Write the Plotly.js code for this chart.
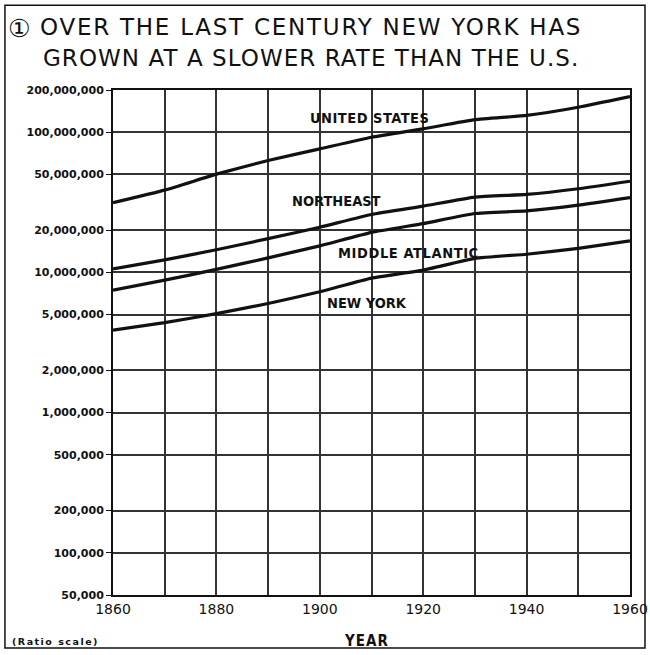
<!DOCTYPE html>
<html>
<head>
<meta charset="utf-8">
<script src="https://cdn.plot.ly/plotly-3.0.1.min.js"></script>
<style>
  html, body { margin: 0; padding: 0; background: #fff; }
  #chart { width: 650px; height: 655px; }
</style>
</head>
<body>
<div id="chart"></div>
<script>
// ---- Data (ratio scale) ----
var years = [1860, 1870, 1880, 1890, 1900, 1910, 1920, 1930, 1940, 1950, 1960];
var unitedStates = [31400000, 38600000, 50200000, 62900000, 76000000, 92000000, 105700000, 122800000, 131700000, 150700000, 179300000];
var northeast = [10600000, 12300000, 14500000, 17400000, 21000000, 25900000, 29700000, 34400000, 36000000, 39500000, 44700000];
var middleAtlantic = [7460000, 8810000, 10500000, 12700000, 15450000, 19300000, 22300000, 26300000, 27500000, 30200000, 34200000];
var newYork = [3880000, 4380000, 5080000, 6000000, 7270000, 9110000, 10390000, 12590000, 13480000, 14830000, 16780000];

var seriesNames = ["UNITED STATES", "NORTHEAST", "MIDDLE ATLANTIC", "NEW YORK"];
// label anchor positions (left edge year, population)
var labelYears = [1897.7, 1894.2, 1903.1, 1901];
var labelValues = [126000000, 32400000, 13800000, 6050000];

var yTickVals = [50000, 100000, 200000, 500000, 1000000, 2000000, 5000000, 10000000, 20000000, 50000000, 100000000, 200000000];
var yTickText = ["50,000", "100,000", "200,000", "500,000", "1,000,000", "2,000,000", "5,000,000", "10,000,000", "20,000,000", "50,000,000", "100,000,000", "200,000,000"];
var xTickVals = [1860, 1870, 1880, 1890, 1900, 1910, 1920, 1930, 1940, 1950, 1960];
var xTickText = ["1860", "", "1880", "", "1900", "", "1920", "", "1940", "", "1960"];

var titleLine1 = "OVER THE LAST CENTURY NEW YORK HAS";
var titleLine2 = "GROWN AT A SLOWER RATE THAN THE U.S.";

// ---- Chart ----
var allSeries = [unitedStates, northeast, middleAtlantic, newYork];
var traces = allSeries.map(function (vals, i) {
  return {
    x: years, y: vals, name: seriesNames[i], type: 'scatter', mode: 'lines',
    line: { color: '#111', width: 3.2, shape: 'spline', smoothing: 0.4 }, showlegend: false, hoverinfo: 'skip'
  };
});

var baseFont = "DejaVu Sans, sans-serif";
var condFont = "DejaVu Sans Condensed, DejaVu Sans, sans-serif";
var annotations = seriesNames.map(function (n, i) {
  return {
    x: labelYears[i], y: Math.log10(labelValues[i]), xref: 'x', yref: 'y',
    xanchor: 'left', yanchor: 'middle',
    text: n, showarrow: false,
    font: { family: condFont, size: 14.5, color: '#111', weight: 'bold' }
  };
});
annotations.push(
  { xref: 'paper', yref: 'paper', x: -0.207, y: 1.155, xanchor: 'left', yanchor: 'top',
    text: '\u2460', showarrow: false, font: { family: baseFont, size: 25, color: '#111' } },
  { xref: 'paper', yref: 'paper', x: -0.145, y: 1.154, xanchor: 'left', yanchor: 'top',
    text: titleLine1, showarrow: false, font: { family: baseFont, size: 23, color: '#111' } },
  { xref: 'paper', yref: 'paper', x: -0.139, y: 1.093, xanchor: 'left', yanchor: 'top',
    text: titleLine2, showarrow: false, font: { family: baseFont, size: 23, color: '#111' } },
  { xref: 'paper', yref: 'paper', x: 0.491, y: -0.091, xanchor: 'center', yanchor: 'middle',
    text: 'YEAR', showarrow: false, font: { family: condFont, size: 15, color: '#111', weight: 'bold' } },
  { xref: 'paper', yref: 'paper', x: -0.2, y: -0.093, xanchor: 'left', yanchor: 'middle',
    text: '(Ratio scale)', showarrow: false, font: { family: baseFont, size: 9.5, color: '#111', weight: 'bold' } }
);

var layout = {
  width: 650, height: 655,
  margin: { l: 113, r: 20, t: 90, b: 60 },
  paper_bgcolor: '#fff', plot_bgcolor: '#fff',
  showlegend: false,
  xaxis: {
    range: [1860, 1960], tickmode: 'array', tickvals: xTickVals, ticktext: xTickText,
    showgrid: true, gridcolor: '#333', gridwidth: 2,
    showline: true, linecolor: '#111', linewidth: 2, mirror: true,
    ticks: '', zeroline: false,
    tickfont: { family: baseFont, size: 14, color: '#111' }
  },
  yaxis: {
    type: 'log', range: [Math.log10(50000), Math.log10(200000000)],
    tickmode: 'array', tickvals: yTickVals, ticktext: yTickText,
    showgrid: true, gridcolor: '#333', gridwidth: 2,
    showline: true, linecolor: '#111', linewidth: 2, mirror: true,
    ticks: 'outside', ticklen: 5, tickcolor: '#111', zeroline: false,
    tickfont: { family: baseFont, size: 11, color: '#111', weight: 'bold' }
  },
  shapes: [
    { type: 'rect', xref: 'paper', yref: 'paper', x0: -0.209, x1: 1.029, y0: -0.105, y1: 1.168,
      line: { color: '#111', width: 1.5 }, fillcolor: 'rgba(0,0,0,0)' }
  ],
  annotations: annotations
};

Plotly.newPlot('chart', traces, layout, { displayModeBar: false, staticPlot: true }).then(function (gd) {
  // widen the letter spacing of the hand-lettered texts, keeping left-anchored ones in place
  var spacing = {};
  spacing[titleLine1] = ['1.75px', true];
  spacing[titleLine2] = ['1.05px', true];
  spacing['(Ratio scale)'] = ['1.5px', true];
  spacing['UNITED STATES'] = ['0.5px', true];
  spacing['MIDDLE ATLANTIC'] = ['0.6px', true];
  spacing['YEAR'] = ['1px', false];
  gd.querySelectorAll('.annotation-text').forEach(function (t) {
    var s = spacing[t.textContent];
    if (!s) return;
    var w0 = t.getBBox().width;
    t.style.letterSpacing = s[0];
    var w1 = t.getBBox().width;
    if (s[1]) {
      var x = parseFloat(t.getAttribute('x')) || 0;
      t.setAttribute('x', x + (w1 - w0) / 2);
    }
  });
});
</script>
</body>
</html>
